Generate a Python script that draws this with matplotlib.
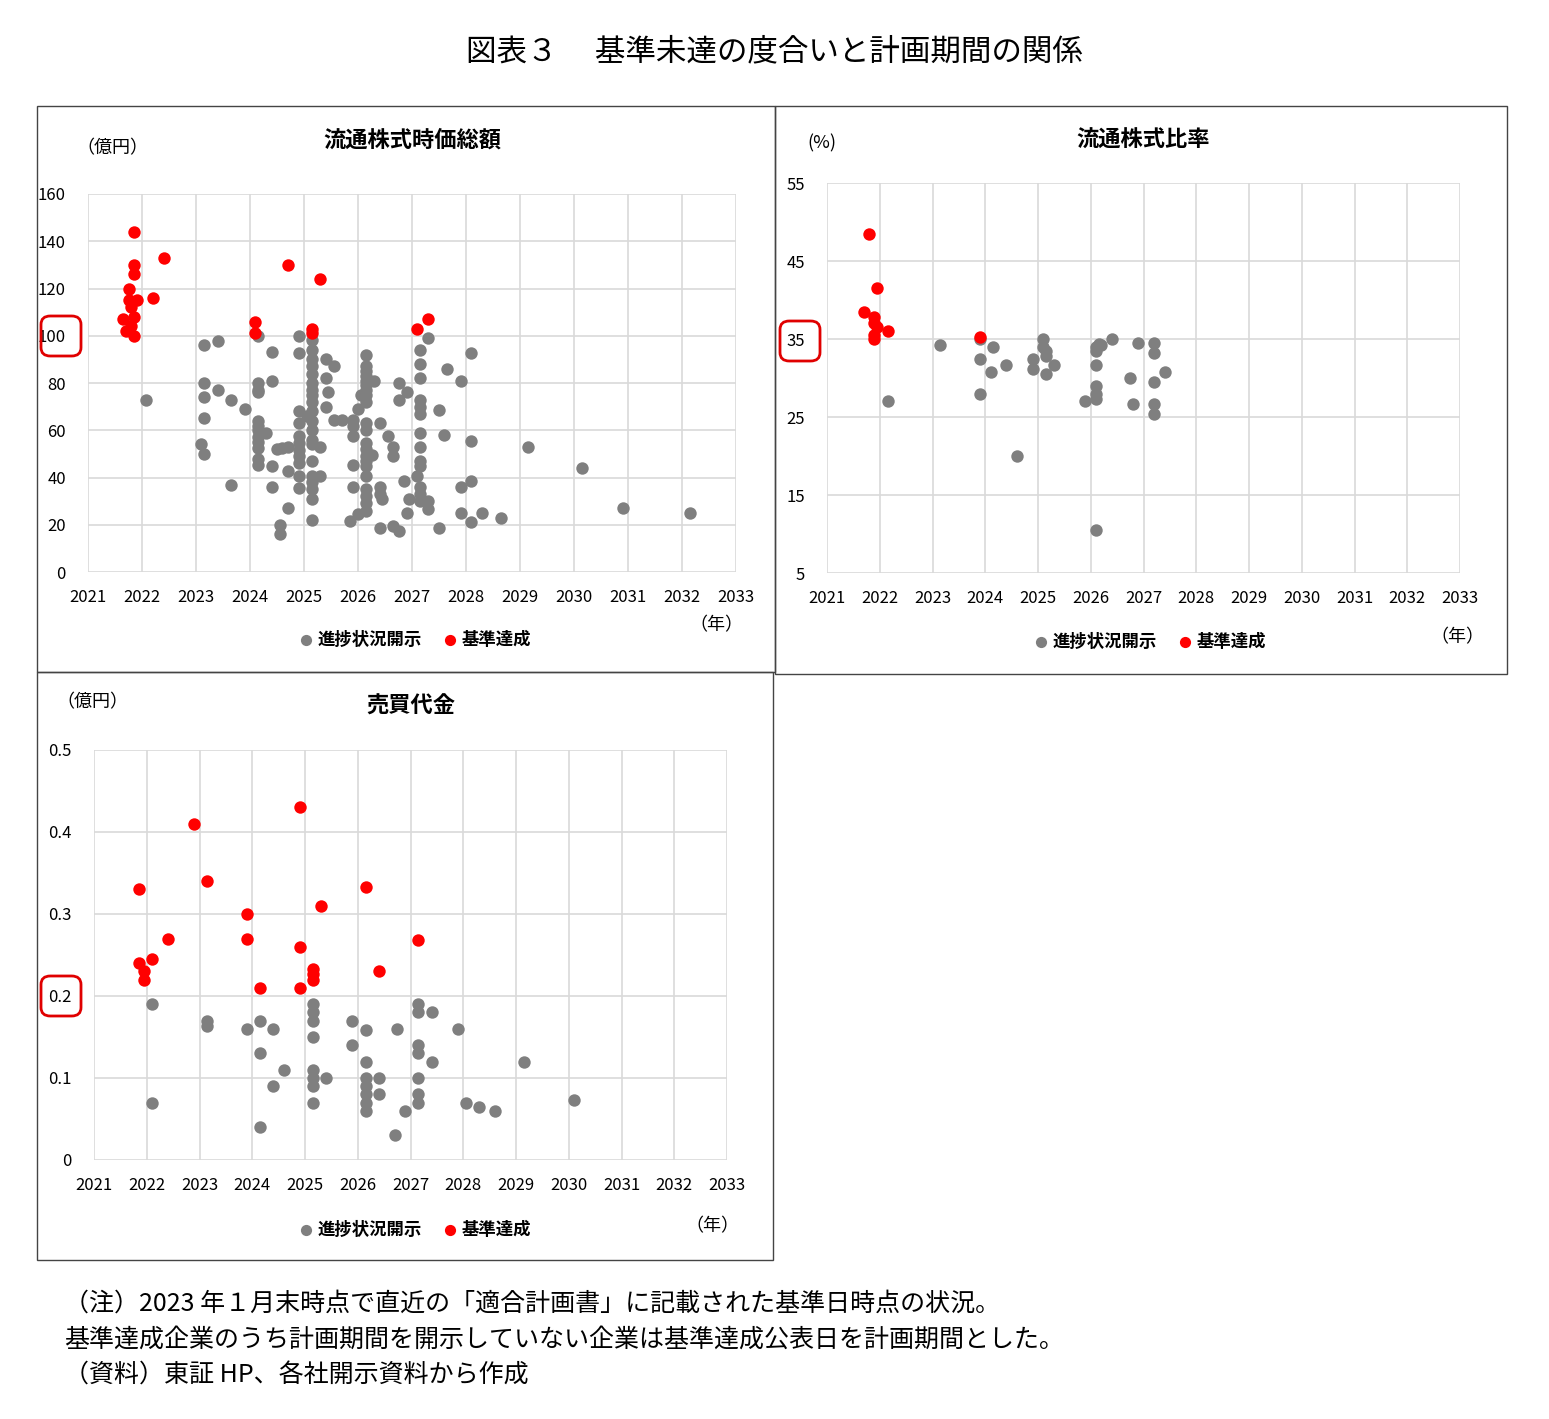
import matplotlib.pyplot as plt
from matplotlib.patches import Rectangle, FancyBboxPatch

plt.rcParams['font.family'] = 'Noto Sans CJK JP'

# ---- panel 1: 流通株式時価総額 (億円)
mc_red_x = [2021.85, 2021.85, 2021.85, 2021.75, 2021.75, 2021.9, 2021.8, 2021.85, 2021.65, 2021.8, 2021.7, 2021.85,
            2022.4, 2022.2, 2024.1, 2024.1, 2024.7, 2025.15, 2025.15, 2025.3, 2027.1, 2027.3]
mc_red_y = [144, 130, 126, 120, 115, 115, 112, 108, 107, 104, 102, 100,
            133, 116, 106, 101, 130, 103, 101, 124, 103, 107]
mc_gray_x = [2022.07, 2023.15, 2023.4, 2023.15, 2023.15, 2023.4, 2023.65, 2023.9, 2023.15, 2023.1, 2023.15, 2023.65,
             2024.15, 2024.15, 2024.15, 2024.15, 2024.4, 2024.4, 2024.15, 2024.15, 2024.15, 2024.15, 2024.15, 2024.15,
             2024.3, 2024.15, 2024.15, 2024.4, 2024.4, 2024.6, 2024.7, 2024.7, 2024.55, 2024.55,
             2024.9, 2024.9, 2025.15, 2025.15, 2025.15, 2025.15, 2025.15, 2025.15, 2025.15, 2025.15, 2025.15, 2025.15,
             2025.15, 2025.15, 2025.15, 2025.15, 2024.9, 2024.9, 2024.9, 2024.9, 2024.9, 2024.9, 2024.9, 2024.9, 2024.9,
             2025.15, 2025.15, 2025.15, 2025.15, 2025.15, 2025.15, 2025.3, 2025.3, 2025.4, 2025.55, 2025.4, 2025.45,
             2025.4, 2025.7, 2025.55, 2024.7, 2024.5, 2025.05,
             2026.15, 2026.15, 2026.15, 2026.15, 2026.15, 2026.15, 2026.15, 2026.15, 2026.15, 2026.3, 2026.05, 2026.0,
             2025.9, 2025.9, 2025.9, 2026.15, 2026.15, 2026.4, 2026.55, 2026.15, 2026.15, 2026.15, 2026.15, 2026.15,
             2026.15, 2026.25, 2025.9, 2025.9, 2026.15, 2026.15, 2026.15, 2026.15, 2026.4, 2026.4, 2026.45, 2026.65,
             2026.65, 2026.75, 2026.9, 2026.75, 2026.85, 2026.95, 2026.9, 2026.0, 2025.85, 2026.4, 2026.65, 2026.75,
             2027.15, 2027.15, 2027.15, 2027.15, 2027.15, 2027.15, 2027.15, 2027.15, 2027.15, 2027.15, 2027.1, 2027.15,
             2027.15, 2027.15, 2027.3, 2027.3, 2027.3, 2027.65, 2027.9, 2027.5, 2027.6, 2027.5, 2028.1, 2028.1, 2027.9,
             2028.1, 2027.9, 2028.1, 2028.3, 2028.65, 2029.15, 2030.15, 2030.9, 2032.15]
mc_gray_y = [73, 96, 97.6, 80, 74, 77, 73, 69, 65, 54, 50, 37,
             100, 80, 77, 76, 93, 81, 64, 62, 60, 57, 55, 52.5,
             59, 48, 45.5, 45, 36, 52.5, 42.7, 27, 20, 16,
             100, 92.7, 98, 94, 90, 87, 84, 80, 77, 75, 72, 68,
             64, 60, 56, 54, 68, 63, 57.5, 54.6, 51.8, 49, 46, 40.5, 35.6,
             47, 40.5, 38, 35, 30.7, 22, 40.5, 53, 90, 87, 82, 76,
             70, 64.5, 64.5, 53, 52, 66,
             92, 87, 85, 83, 81, 79, 77, 75, 72, 80.7, 75, 69,
             64.5, 62, 57.5, 63, 60, 63, 57.5, 54.6, 52, 49, 47, 45,
             40.5, 49.7, 45.5, 36, 35, 32, 29, 26, 36, 33, 31, 53,
             49, 80, 76, 73, 38.5, 30.7, 25, 24.4, 21.5, 18.7, 19.5, 17.3,
             94, 88, 82, 73, 70, 67, 59, 53, 47, 45, 40.5, 36,
             33, 30, 30, 26.5, 99, 86, 80.7, 68.7, 58, 18.7, 92.7, 55.4, 36,
             38.5, 25, 21, 25, 23, 53, 44, 27, 25]

# ---- panel 2: 流通株式比率 (%)
fr_red_x = [2021.7, 2021.8, 2021.95, 2021.9, 2021.9, 2021.95, 2021.9, 2021.9, 2022.15, 2023.9]
fr_red_y = [38.5, 48.5, 41.5, 37.8, 37, 36.5, 35.5, 35, 36, 35.3]
fr_gray_x = [2022.15, 2023.15, 2023.9, 2023.9, 2023.9, 2024.15, 2024.1, 2024.4, 2024.6, 2024.9, 2024.9,
             2025.1, 2025.1, 2025.15, 2025.15, 2025.15, 2025.3, 2025.9, 2026.1, 2026.1, 2026.15, 2026.1,
             2026.1, 2026.1, 2026.2, 2026.4, 2026.1, 2026.1, 2026.75, 2026.8, 2026.9, 2027.2, 2027.2,
             2027.2, 2027.2, 2027.2, 2027.4]
fr_gray_y = [27, 34.2, 35, 32.5, 28, 34, 30.8, 31.7, 20, 32.5, 31.2,
             35, 34, 33.5, 32.8, 30.5, 31.7, 27, 34, 33.5, 34.3, 29,
             28, 27.3, 34.2, 35, 10.5, 31.7, 30, 26.7, 34.5, 34.5, 33.2,
             29.5, 26.7, 25.4, 30.8]

# ---- panel 3: 売買代金 (億円)
tv_red_x = [2021.85, 2021.85, 2021.95, 2021.95, 2022.1, 2022.4, 2022.9, 2023.15, 2023.9, 2023.9, 2024.15,
            2024.9, 2024.9, 2024.9, 2025.15, 2025.15, 2025.15, 2025.3, 2026.15, 2026.4, 2027.15]
tv_red_y = [0.33, 0.24, 0.23, 0.22, 0.245, 0.27, 0.41, 0.34, 0.30, 0.27, 0.21,
            0.43, 0.26, 0.21, 0.233, 0.227, 0.22, 0.31, 0.333, 0.23, 0.268]
tv_gray_x = [2022.1, 2022.1, 2023.15, 2023.15, 2023.9, 2024.15, 2024.15, 2024.15, 2024.4, 2024.4, 2024.6,
             2025.15, 2025.15, 2025.15, 2025.15, 2025.15, 2025.15, 2025.15, 2025.15, 2025.4, 2025.9, 2025.9,
             2026.15, 2026.15, 2026.15, 2026.15, 2026.15, 2026.15, 2026.15, 2026.4, 2026.4, 2026.7, 2026.75,
             2026.9, 2027.15, 2027.15, 2027.15, 2027.15, 2027.15, 2027.15, 2027.15, 2027.4, 2027.4, 2027.9,
             2028.05, 2028.3, 2028.6, 2029.15, 2030.1]
tv_gray_y = [0.19, 0.07, 0.17, 0.163, 0.16, 0.17, 0.13, 0.04, 0.16, 0.09, 0.11,
             0.19, 0.18, 0.17, 0.15, 0.11, 0.10, 0.09, 0.07, 0.10, 0.17, 0.14,
             0.158, 0.12, 0.10, 0.09, 0.08, 0.07, 0.06, 0.10, 0.08, 0.03, 0.16,
             0.06, 0.19, 0.18, 0.14, 0.13, 0.10, 0.08, 0.07, 0.18, 0.12, 0.16,
             0.07, 0.065, 0.06, 0.12, 0.073]

years = list(range(2021, 2034))
W, H = 1549, 1419
fig = plt.figure(figsize=(W / 100, H / 100), dpi=100)


def fx(px):
    return px / W


def fy(py):
    return 1 - py / H


def panel(box, area, title, unit, unit_pos, yticks, xr, yr, gx, gy, leg_y, nen_pos, hl):
    x0, y0, x1, y1 = box
    fig.patches.append(Rectangle((fx(x0), fy(y1)), fx(x1 - x0), (y1 - y0) / H, transform=fig.transFigure,
                                 fill=False, edgecolor='#444444', lw=1.0))
    a0, b0, a1, b1 = area
    ax = fig.add_axes([fx(a0), fy(b1), fx(a1 - a0), (b1 - b0) / H])
    ax.scatter(gx, gy, s=80, color='#7f7f7f', zorder=3, label='進捗状況開示', linewidths=0)
    ax.scatter(xr, yr, s=80, color='#ff0000', zorder=4, label='基準達成', linewidths=0)
    ax.set_xlim(2021, 2033)
    ax.set_ylim(yticks[0], yticks[-1])
    ax.set_xticks(years)
    ax.set_yticks(yticks)
    ax.set_yticklabels([('%g' % t) for t in yticks])
    ax.grid(True, color='#d9d9d9', lw=1.2)
    ax.set_axisbelow(True)
    for s in ax.spines.values():
        s.set_visible(False)
    ax.tick_params(length=0, labelsize=12, pad=12)
    ax.tick_params(axis='y', pad=16)
    fig.text(fx((a0 + a1) / 2), fy(title[1]), title[0], ha='center', va='center', fontsize=16, fontweight='bold')
    fig.text(fx(unit_pos[0]), fy(unit_pos[1]), unit, ha='center', va='center', fontsize=13)
    fig.text(fx(nen_pos[0]), fy(nen_pos[1]), '（年）', ha='center', va='center', fontsize=13)
    ax.legend(loc='center', bbox_to_anchor=(fx(leg_y[0]), fy(leg_y[1])), bbox_transform=fig.transFigure,
              ncol=2, frameon=False, prop={'size': 12.5, 'weight': 'bold'}, handletextpad=-0.3,
              columnspacing=0.6, markerscale=0.9)
    fig.patches.append(FancyBboxPatch((fx(hl[0]), fy(hl[1] + 40)), fx(40), 40 / H,
                                      boxstyle='round,pad=0,rounding_size=0.006', transform=fig.transFigure,
                                      fill=False, edgecolor='#e00000', lw=2))
    return ax


panel((37, 106, 775, 672), (88, 194, 736, 572), ('流通株式時価総額', 140), '（億円）', (112, 148),
      [0, 20, 40, 60, 80, 100, 120, 140, 160], mc_red_x, mc_red_y, mc_gray_x, mc_gray_y,
      (410, 640), (716, 625), (41, 316))
panel((775, 106, 1507, 674), (827, 183, 1460, 573), ('流通株式比率', 140), '(%)', (822, 143),
      [5, 15, 25, 35, 45, 55], fr_red_x, fr_red_y, fr_gray_x, fr_gray_y,
      (1145, 642), (1457, 637), (780, 321))
panel((37, 672, 773, 1260), (94, 750, 727, 1160), ('売買代金', 706), '（億円）', (92, 702),
      [0, 0.1, 0.2, 0.3, 0.4, 0.5], tv_red_x, tv_red_y, tv_gray_x, tv_gray_y,
      (410, 1230), (712, 1226), (41, 976))

fig.text(0.5, fy(52), '図表３　 基準未達の度合いと計画期間の関係', ha='center', va='center', fontsize=22)
notes = ['（注）2023 年１月末時点で直近の「適合計画書」に記載された基準日時点の状況。',
         '基準達成企業のうち計画期間を開示していない企業は基準達成公表日を計画期間とした。',
         '（資料）東証 HP、各社開示資料から作成']
for i, t in enumerate(notes):
    fig.text(fx(64), fy(1304 + 36 * i), t, ha='left', va='center', fontsize=18)

fig.savefig('out.png', dpi=100)
